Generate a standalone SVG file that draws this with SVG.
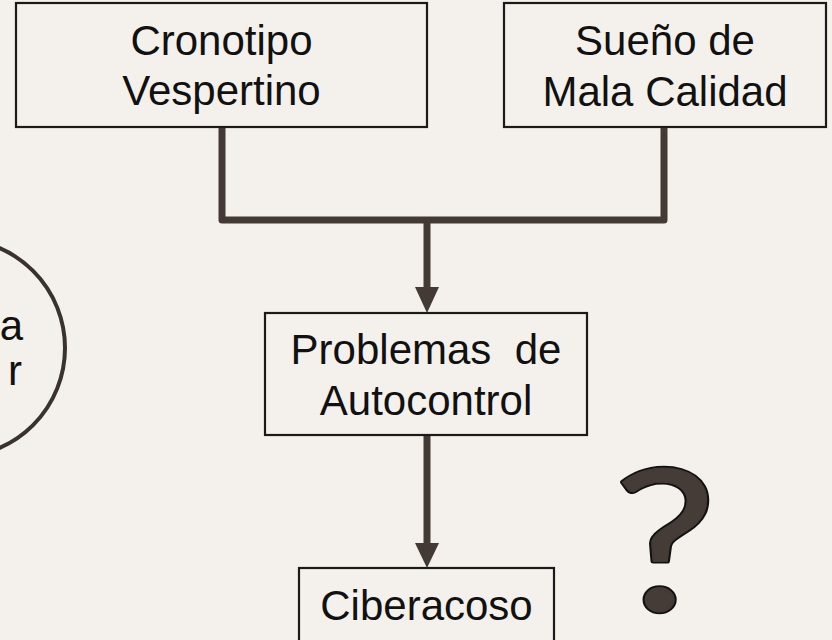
<svg xmlns="http://www.w3.org/2000/svg" width="832" height="640" viewBox="0 0 832 640">
  <defs>
    <style>
      .box { fill: #f4f1ec; stroke: #1c1a19; stroke-width: 2.2; }
      .lbl { font-family: "Liberation Sans", Arial, sans-serif; font-size: 42px; fill: #111; text-anchor: middle; }
      .conn { fill: none; stroke: #433a36; stroke-width: 7; stroke-linejoin: round; }
      .qm { font-family: Lato, "Liberation Sans", sans-serif; font-size: 196px; text-anchor: middle; }
    </style>
  </defs>
  <rect width="832" height="640" fill="#f4f1ec"/>

  <g id="connectors">
    <path class="conn" d="M222 127 V220 H664 V127"/>
    <path class="conn" d="M427 220 V287"/>
    <path d="M415 287 L439 287 L427 313 Z" fill="#433a36"/>
    <path class="conn" d="M427 435 V543"/>
    <path d="M415 543 L439 543 L427 568 Z" fill="#433a36"/>
  </g>

  <g id="node-cronotipo">
    <rect class="box" x="16" y="3" width="411" height="124"/>
    <text class="lbl" x="221.5" y="55">Cronotipo</text>
    <text class="lbl" x="221.5" y="105">Vespertino</text>
  </g>

  <g id="node-sueno">
    <rect class="box" x="504" y="3" width="322" height="124"/>
    <text class="lbl" x="665" y="55">Sueño de</text>
    <text class="lbl" x="665" y="106">Mala Calidad</text>
  </g>

  <g id="node-problemas">
    <rect class="box" x="265" y="313" width="322" height="122"/>
    <text class="lbl" x="426" y="364" xml:space="preserve">Problemas  de</text>
    <text class="lbl" x="426" y="415">Autocontrol</text>
  </g>

  <g id="node-ciberacoso">
    <rect class="box" x="299" y="568" width="255" height="75"/>
    <text class="lbl" x="426.5" y="620">Ciberacoso</text>
  </g>

  <g id="node-circle">
    <circle cx="-44" cy="348" r="109" fill="none" stroke="#3a3230" stroke-width="4"/>
    <text class="lbl" x="23" y="340" style="text-anchor:end">a</text>
    <text class="lbl" x="22" y="385" style="text-anchor:end">r</text>
  </g>

  <g id="question" transform="translate(665 0) scale(1.18 1) translate(-665 0)">
    <text class="qm" x="665" y="611" fill="#111" stroke="#111" stroke-width="4.5" stroke-linejoin="round">?</text>
    <text class="qm" x="665" y="611" fill="#453b37" stroke="#453b37" stroke-width="1" stroke-linejoin="round">?</text>
  </g>
</svg>
